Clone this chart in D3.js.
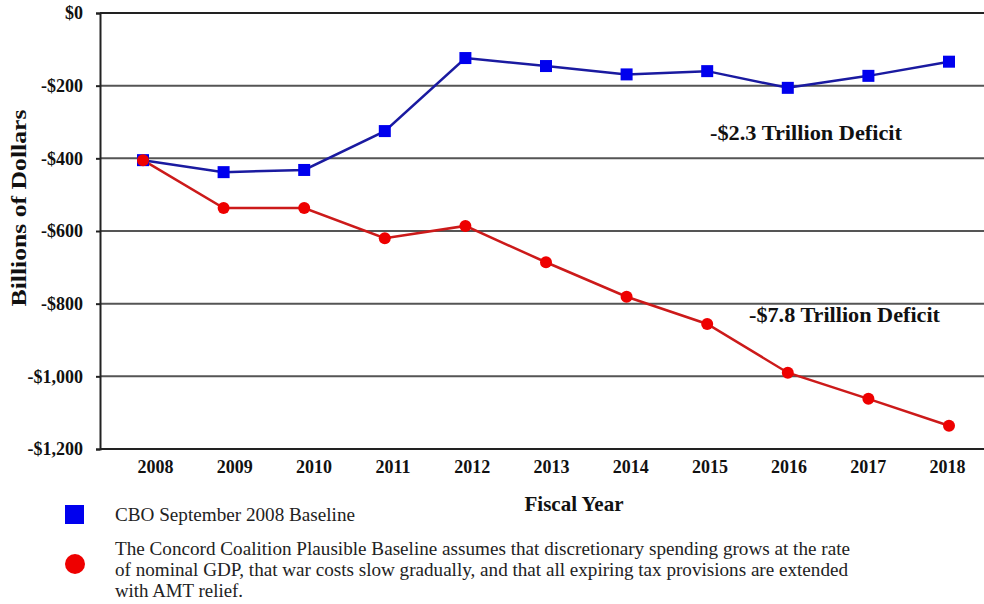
<!DOCTYPE html>
<html>
<head>
<meta charset="utf-8">
<script src="https://cdn.jsdelivr.net/npm/d3@7"></script>
<style>
  body { margin: 0; background: #fff; }
  svg { display: block; font-family: "Liberation Serif", "Times New Roman", serif; }
</style>
</head>
<body>
<svg id="chart" width="984" height="604"></svg>
<script>
// fiscal years on the x axis
const years = [2008, 2009, 2010, 2011, 2012, 2013, 2014, 2015, 2016, 2017, 2018];
// deficit, billions of dollars
const cboBaseline = [-405, -438, -432, -325, -124, -146, -169, -160, -206, -173, -134];
const concordBaseline = [-405, -537, -537, -620, -586, -686, -781, -856, -990, -1062, -1136];
const yTicks = [0, -200, -400, -600, -800, -1000, -1200];

const svg = d3.select("#chart");
const plot = { left: 100, right: 984, top: 13, bottom: 449 };

const x = d3.scaleLinear().domain([2008, 2018]).range([143, 949]);
// the year labels sit a little off the data points in the original
const xLabel = d3.scaleLinear().domain([2008, 2018]).range([155, 947]);
const y = d3.scaleLinear().domain([-1200, 0]).range([plot.bottom, plot.top]);

// horizontal grid lines
svg.append("g")
  .selectAll("line")
  .data(yTicks)
  .join("line")
    .attr("x1", plot.left)
    .attr("x2", plot.right)
    .attr("y1", d => y(d))
    .attr("y2", d => y(d))
    .attr("stroke", d => (d === 0 || d === -1200) ? "#222" : "#555")
    .attr("stroke-width", 2);

// y axis
const fmtY = d => d === 0 ? "$0" : "-$" + d3.format(",")(-d);
const yAxis = svg.append("g")
  .attr("transform", `translate(${plot.left},0)`)
  .call(d3.axisLeft(y).tickValues(yTicks).tickSize(4).tickPadding(13).tickFormat(fmtY));
yAxis.select(".domain").attr("stroke", "#222").attr("stroke-width", 2);
yAxis.selectAll(".tick line").attr("stroke", "#222").attr("stroke-width", 2);
yAxis.selectAll(".tick text")
  .attr("font-family", "Liberation Serif, serif")
  .attr("font-size", 18)
  .attr("font-weight", "bold")
  .attr("fill", "#111");

// x axis labels (no axis line; the bottom grid line acts as one)
const xAxis = svg.append("g")
  .attr("transform", `translate(0,${plot.bottom})`)
  .call(d3.axisBottom(xLabel).tickValues(years).tickSize(0).tickPadding(11).tickFormat(d3.format("d")));
xAxis.select(".domain").remove();
xAxis.selectAll(".tick text")
  .attr("font-family", "Liberation Serif, serif")
  .attr("font-size", 18)
  .attr("font-weight", "bold")
  .attr("fill", "#111");

// axis titles
svg.append("text")
  .attr("transform", "translate(26,208) rotate(-90)")
  .attr("text-anchor", "middle")
  .attr("font-size", 21)
  .attr("font-weight", "bold")
  .attr("fill", "#111")
  .attr("textLength", 197)
  .attr("lengthAdjust", "spacingAndGlyphs")
  .text("Billions of Dollars");

svg.append("text")
  .attr("x", 574)
  .attr("y", 511)
  .attr("text-anchor", "middle")
  .attr("font-size", 21)
  .attr("font-weight", "bold")
  .attr("fill", "#111")
  .text("Fiscal Year");

const line = d3.line()
  .x((d, i) => x(years[i]))
  .y(d => y(d));

// concord coalition series (red)
svg.append("path")
  .datum(concordBaseline)
  .attr("d", line)
  .attr("fill", "none")
  .attr("stroke", "#cc1a1a")
  .attr("stroke-width", 2.5);

// cbo series (blue)
svg.append("path")
  .datum(cboBaseline)
  .attr("d", line)
  .attr("fill", "none")
  .attr("stroke", "#1a1aa0")
  .attr("stroke-width", 2.5);

svg.append("g")
  .selectAll("rect")
  .data(cboBaseline)
  .join("rect")
    .attr("x", (d, i) => x(years[i]) - 6)
    .attr("y", d => y(d) - 6)
    .attr("width", 12)
    .attr("height", 12)
    .attr("fill", "#0000ee");

svg.append("g")
  .selectAll("circle")
  .data(concordBaseline)
  .join("circle")
    .attr("cx", (d, i) => x(years[i]))
    .attr("cy", d => y(d))
    .attr("r", 6)
    .attr("fill", "#ee0000");

// annotations
svg.append("text")
  .attr("x", 710)
  .attr("y", 140)
  .attr("font-size", 22)
  .attr("font-weight", "bold")
  .attr("fill", "#111")
  .attr("textLength", 192)
  .attr("lengthAdjust", "spacingAndGlyphs")
  .text("-$2.3 Trillion Deficit");

svg.append("text")
  .attr("x", 749)
  .attr("y", 322)
  .attr("font-size", 22)
  .attr("font-weight", "bold")
  .attr("fill", "#111")
  .attr("textLength", 191)
  .attr("lengthAdjust", "spacingAndGlyphs")
  .text("-$7.8 Trillion Deficit");

// legend
const legend = svg.append("g");
legend.append("rect")
  .attr("x", 65).attr("y", 505)
  .attr("width", 19).attr("height", 19)
  .attr("fill", "#0000ee");
legend.append("text")
  .attr("x", 115).attr("y", 521)
  .attr("font-size", 18)
  .attr("fill", "#222")
  .attr("textLength", 240)
  .attr("lengthAdjust", "spacingAndGlyphs")
  .text("CBO September 2008 Baseline");

legend.append("circle")
  .attr("cx", 75).attr("cy", 564)
  .attr("r", 10)
  .attr("fill", "#ee0000");
const noteLines = [
  { text: "The Concord Coalition Plausible Baseline assumes that discretionary spending grows at the rate", width: 735 },
  { text: "of nominal GDP, that war costs slow gradually, and that all expiring tax provisions are extended", width: 733 },
  { text: "with AMT relief.", width: 128 }
];
legend.append("text")
  .attr("font-size", 18)
  .attr("fill", "#222")
  .selectAll("tspan")
  .data(noteLines)
  .join("tspan")
    .attr("x", 115)
    .attr("y", (d, i) => 555 + i * 21)
    .attr("textLength", d => d.width)
    .attr("lengthAdjust", "spacingAndGlyphs")
    .text(d => d.text);
</script>
</body>
</html>
